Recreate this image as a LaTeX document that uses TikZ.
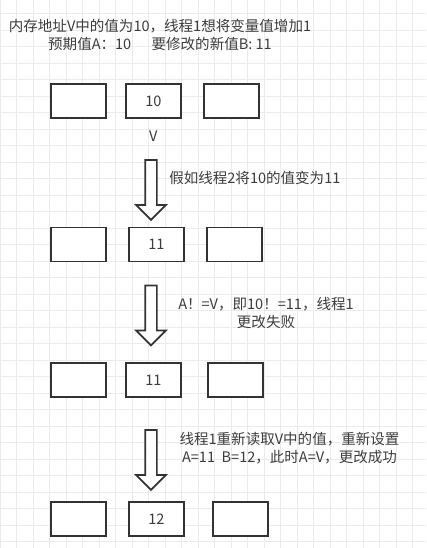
\documentclass[tikz,border=0pt]{standalone}
\usepackage{fontspec}
\setmainfont{Noto Sans CJK SC}
\usetikzlibrary{positioning,shapes.arrows}
\definecolor{ink}{HTML}{333333}
\definecolor{textgray}{HTML}{3C3C3C}
\definecolor{gridgray}{HTML}{EBEBEB}

\begin{document}
\begin{tikzpicture}[
  x=0.75pt, y=-0.75pt, font=\fontsize{10.9}{13.5}\selectfont, text=textgray,
  gridline/.style={draw=gridgray, line width=0.75pt},
  cell/.style={draw=ink, line width=1.4pt, fill=white,
               minimum width=41.25pt, minimum height=25.5pt, inner sep=0pt},
  bigarr/.style={single arrow, draw=ink, line width=1.3pt, fill=white,
                 rotate=-90, minimum height=45pt, inner sep=3.75pt,
                 single arrow head extend=6.75pt},
  note/.style={align=center, inner sep=0pt},
]
  \useasboundingbox (0,0) rectangle (426,548);
  % background grid
  \foreach \i in {0,...,25}
    \draw[gridline] ({0.2+16.5*\i},0) -- ({0.2+16.5*\i},548);
  \foreach \j in {0,...,32}
    \draw[gridline] (0,{13.8+16.5*\j}) -- (426,{13.8+16.5*\j});

  \node[note] (title) at (160,35)
    {内存地址V中的值为10，线程1想将变量值增加1\\
     预期值A：10\hspace{1.4em}要修改的新值B: 11};

  % step 1
  \node[cell] (r1a) at (78.5,101) {};
  \node[cell, right=13.5pt of r1a] (r1b) {10};
  \node[cell, right=15.75pt of r1b] (r1c) {};
  \node[inner sep=0pt, below=9pt of r1b] (v) {V};

  \node[bigarr] (arr1) at (151,187) {};
  \node[note, anchor=west] (lab1) at (169,178) {假如线程2将10的值变为11};

  % step 2
  \node[cell] (r2a) at (78.5,244.5) {};
  \node[cell, right=15.75pt of r2a] (r2b) {11};
  \node[cell, right=15.75pt of r2b] (r2c) {};

  \node[bigarr] (arr2) at (151,312.5) {};
  \node[note] (lab2) at (266,313) {A！=V，即10！=11，线程1\\更改失败};

  % step 3
  \node[cell] (r3a) at (78.5,380) {};
  \node[cell, right=13.5pt of r3a] (r3b) {11};
  \node[cell, right=18.75pt of r3b] (r3c) {};

  \node[bigarr] (arr3) at (151,457) {};
  \node[note] (lab3) at (289.5,448)
    {线程1重新读取V中的值，重新设置\\A=11\ \ B=12，此时A=V，更改成功};

  % step 4
  \node[cell] (r4a) at (78.5,519) {};
  \node[cell, right=15.75pt of r4a] (r4b) {12};
  \node[cell, right=20.25pt of r4b] (r4c) {};
\end{tikzpicture}
\end{document}
